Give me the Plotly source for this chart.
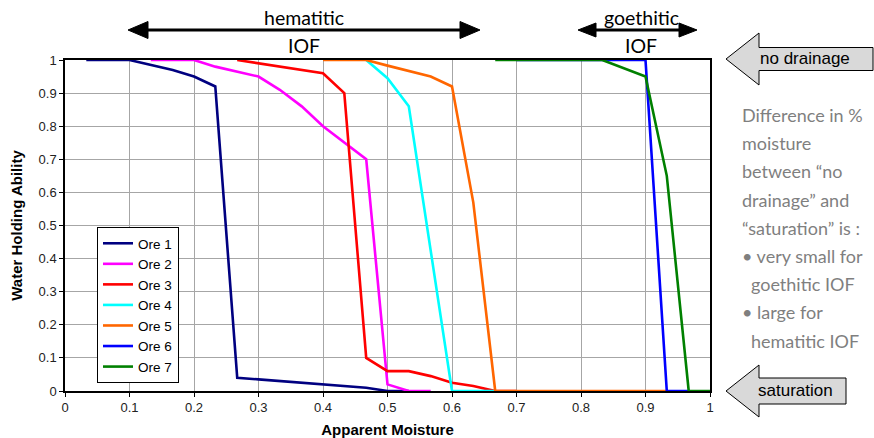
import plotly.graph_objects as go

# Water holding ability vs apparent moisture for seven iron ore fines
ore1_x = [0.033, 0.1, 0.167, 0.2, 0.233, 0.267, 0.3, 0.4, 0.467, 0.5, 0.533]
ore1_y = [1.0, 1.0, 0.97, 0.95, 0.92, 0.04, 0.035, 0.02, 0.01, 0.0, 0.0]

ore2_x = [0.133, 0.2, 0.233, 0.3, 0.333, 0.367, 0.4, 0.467, 0.5, 0.533, 0.567]
ore2_y = [1.0, 1.0, 0.98, 0.95, 0.91, 0.86, 0.8, 0.7, 0.02, 0.0, 0.0]

ore3_x = [0.267, 0.4, 0.433, 0.467, 0.5, 0.533, 0.567, 0.6, 0.633, 0.667, 0.7]
ore3_y = [1.0, 0.96, 0.9, 0.1, 0.06, 0.06, 0.045, 0.025, 0.015, 0.0, 0.0]

ore4_x = [0.467, 0.5, 0.533, 0.6, 0.633, 0.667]
ore4_y = [1.0, 0.945, 0.86, 0.0, 0.0, 0.0]

ore5_x = [0.4, 0.467, 0.5, 0.567, 0.6, 0.633, 0.667, 0.8, 0.933]
ore5_y = [1.0, 1.0, 0.983, 0.95, 0.92, 0.57, 0.0, 0.0, 0.0]

ore6_x = [0.7, 0.833, 0.9, 0.933, 0.967]
ore6_y = [1.0, 1.0, 1.0, 0.0, 0.0]

ore7_x = [0.667, 0.833, 0.9, 0.933, 0.967, 1.0]
ore7_y = [1.0, 1.0, 0.95, 0.65, 0.0, 0.0]

series_names = ["Ore 1", "Ore 2", "Ore 3", "Ore 4", "Ore 5", "Ore 6", "Ore 7"]
series_x = [ore1_x, ore2_x, ore3_x, ore4_x, ore5_x, ore6_x, ore7_x]
series_y = [ore1_y, ore2_y, ore3_y, ore4_y, ore5_y, ore6_y, ore7_y]
series_colors = ["#000080", "#ff00ff", "#ff0000", "#00ffff", "#ff6600", "#0000ff", "#008000"]

x_ticks = [0, 0.1, 0.2, 0.3, 0.4, 0.5, 0.6, 0.7, 0.8, 0.9, 1]
x_tick_text = ["0", "0.1", "0.2", "0.3", "0.4", "0.5", "0.6", "0.7", "0.8", "0.9", "1"]
y_ticks = [0, 0.1, 0.2, 0.3, 0.4, 0.5, 0.6, 0.7, 0.8, 0.9, 1]
y_tick_text = ["0", "0.1", "0.2", "0.3", "0.4", "0.5", "0.6", "0.7", "0.8", "0.9", "1"]

note_lines = [
    ("Difference in %", 0),
    ("moisture", 0),
    ("between \u201cno", 0),
    ("drainage\u201d and", 0),
    ("\u201csaturation\u201d is :", 0),
    ("\u2022 very small for", 0),
    ("goethitic IOF", 9),
    ("\u2022 large for", 0),
    ("hematitic IOF", 9),
]

W, H = 874, 438
L, R, T, B = 65, 164, 60, 47
PW, PH = W - L - R, H - T - B


def px(x):
    """Pixel column -> paper x."""
    return (x - L) / PW


def py(y):
    """Pixel row -> paper y."""
    return (H - B - y) / PH


fig = go.Figure()
for name, xs, ys, col in zip(series_names, series_x, series_y, series_colors):
    fig.add_trace(go.Scatter(x=xs, y=ys, mode="lines", name=name,
                             line=dict(color=col, width=2.6)))

shapes = []
annotations = []


def double_arrow(x0, x1, yc, head_len, head_half, lw=3):
    shapes.append(dict(type="line", xref="paper", yref="paper",
                       x0=px(x0 + head_len - 2), x1=px(x1 - head_len + 2),
                       y0=py(yc), y1=py(yc),
                       line=dict(color="black", width=lw)))
    for tip, base in ((x0, x0 + head_len), (x1, x1 - head_len)):
        path = (f"M {px(tip)},{py(yc)} L {px(base)},{py(yc - head_half)} "
                f"L {px(base)},{py(yc + head_half)} Z")
        shapes.append(dict(type="path", xref="paper", yref="paper", path=path,
                           fillcolor="black", line=dict(color="black", width=1)))


def block_arrow(tip_x, right_x, yc, head_base_x, head_half, shaft_half):
    pts = [(tip_x, yc), (head_base_x, yc - head_half), (head_base_x, yc - shaft_half),
           (right_x, yc - shaft_half), (right_x, yc + shaft_half),
           (head_base_x, yc + shaft_half), (head_base_x, yc + head_half)]
    path = "M " + " L ".join(f"{px(a)},{py(b)}" for a, b in pts) + " Z"
    shapes.append(dict(type="path", xref="paper", yref="paper", path=path,
                       fillcolor="#d9d9d9", line=dict(color="black", width=1)))


double_arrow(128, 480, 30, 20, 8.5)
double_arrow(578, 697, 30, 18, 7)
block_arrow(726, 873, 59, 759, 26, 11.5)
block_arrow(726, 846, 391, 759, 26, 13)

label_font = dict(family="Lato, Carlito, sans-serif", size=19.5, color="black")


def text_at(x, y, txt, font, xanchor="center"):
    annotations.append(dict(x=px(x), y=py(y), xref="paper", yref="paper", text=txt,
                            showarrow=False, font=font, xanchor=xanchor,
                            yanchor="middle"))


text_at(304, 18, "hematitic", label_font)
text_at(304, 46, "IOF", label_font)
text_at(641, 18, "goethitic", label_font)
text_at(641, 46, "IOF", label_font)

arial17 = dict(family="Liberation Sans, Arial, sans-serif", size=17, color="black")
text_at(805, 59, "no drainage", arial17)
text_at(795, 390, "saturation", arial17)

note_font = dict(family="Lato, Carlito, sans-serif", size=18, color="#7f7f7f")
for i, (line, indent) in enumerate(note_lines):
    text_at(740 + indent, 115 + i * 28.2, line, note_font, xanchor="left")

fig.update_layout(
    width=W, height=H,
    margin=dict(l=L, r=R, t=T, b=B, autoexpand=False),
    paper_bgcolor="white", plot_bgcolor="white",
    font=dict(family="Liberation Sans, Arial, sans-serif", size=13, color="#222222"),
    shapes=shapes, annotations=annotations,
    legend=dict(x=px(97), y=py(227), xanchor="left", yanchor="top",
                bgcolor="white", bordercolor="black", borderwidth=1,
                font=dict(family="Liberation Sans, Arial, sans-serif", size=13.5,
                          color="black"),
                tracegroupgap=0, itemwidth=30),
    showlegend=True,
)

fig.update_xaxes(range=[0, 1], tickvals=x_ticks, ticktext=x_tick_text,
                 showgrid=True, gridcolor="#a6a6a6", gridwidth=1,
                 showline=True, linecolor="black", linewidth=1.5, mirror=True,
                 ticks="outside", ticklen=4, tickcolor="black", zeroline=False,
                 automargin=False,
                 title=dict(text="<b>Apparent Moisture</b>", standoff=11,
                            font=dict(size=15, color="black")))
fig.update_yaxes(range=[0, 1], tickvals=y_ticks, ticktext=y_tick_text,
                 showgrid=True, gridcolor="#a6a6a6", gridwidth=1,
                 showline=True, linecolor="black", linewidth=1.5, mirror=True,
                 ticks="outside", ticklen=4, tickcolor="black", zeroline=False,
                 automargin=False,
                 title=dict(text="<b>Water Holding Ability</b>", standoff=12,
                            font=dict(size=15, color="black")))

fig.write_html("out.html")
